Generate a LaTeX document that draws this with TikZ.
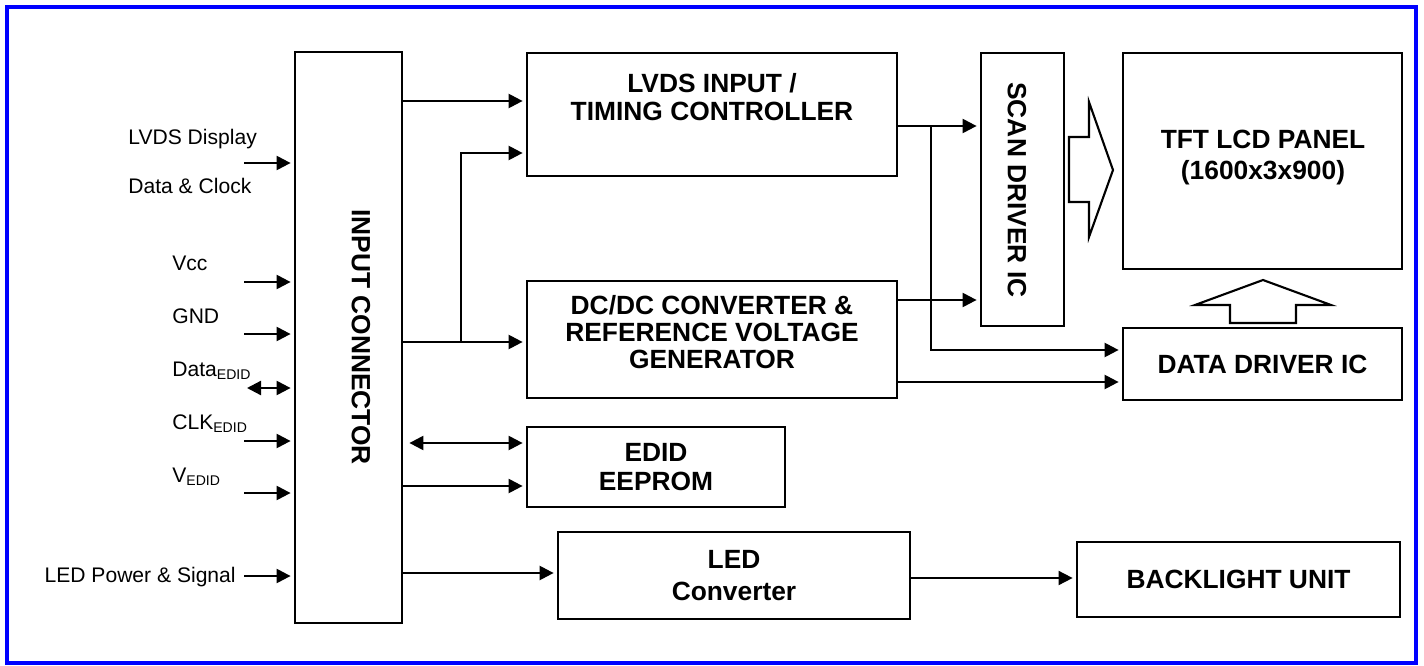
\documentclass[tikz,border=0pt]{standalone}
\usepackage{fontspec}
\setmainfont{Liberation Sans}
\usetikzlibrary{arrows.meta}
\definecolor{FrameBlue}{RGB}{0,0,255}

\begin{document}
\begin{tikzpicture}[x=0.02cm, y=-0.02cm,
    box/.style={rectangle, draw=black, line width=1.6pt, inner sep=0pt, align=center,
        font=\bfseries\fontsize{15}{17}\selectfont},
    boxtxt/.style={inner sep=0pt, align=center, font=\bfseries\fontsize{15}{17}\selectfont},
    lbl/.style={inner sep=0pt, anchor=base west, font=\fontsize{12}{14}\selectfont},
    arr/.style={-{Triangle[length=8pt, width=8pt]}, line width=1.3pt, shorten >=0.06cm},
    darr/.style={{Triangle[length=8pt, width=8pt]}-{Triangle[length=8pt, width=8pt]},
        line width=1.3pt, shorten >=0.06cm},
    hollow/.style={draw=black, line width=1.2pt, fill=white, line join=miter},
]
\useasboundingbox (0,0) rectangle (1424,666);
\draw[FrameBlue, line width=0.08cm] (7,7) rectangle (1416,663);

% blocks
\node[box, minimum width=2.14cm, minimum height=11.42cm] (conn) at (348.5,337.5) {};
\node[boxtxt, rotate=-90] (conn-txt) at (361,337) {INPUT CONNECTOR};
\node[box, minimum width=7.4cm, minimum height=2.46cm] (tcon) at (712,114.5) {};
\node[boxtxt, font=\bfseries\fontsize{15}{16.4}\selectfont] (tcon-txt) at (712,97) {LVDS INPUT /\\TIMING CONTROLLER};
\node[box, minimum width=7.4cm, minimum height=2.34cm] (dcdc) at (712,339.5) {};
\node[boxtxt, font=\bfseries\fontsize{15}{15.6}\selectfont] (dcdc-txt) at (712,332) {DC/DC CONVERTER \&\\REFERENCE VOLTAGE\\GENERATOR};
\node[box, minimum width=5.16cm, minimum height=1.6cm] (edid) at (656,467) {EDID\\EEPROM};
\node[box, minimum width=7.04cm, minimum height=1.74cm, font=\bfseries\fontsize{15}{18}\selectfont] (ledc) at (734,575.5) {LED\\Converter};
\node[box, minimum width=1.66cm, minimum height=5.46cm] (scan) at (1022.5,189.5) {};
\node[boxtxt, rotate=-90] (scan-txt) at (1017,190) {SCAN DRIVER IC};
\node[box, minimum width=5.58cm, minimum height=4.32cm] (tft) at (1262.5,161) {};
\node[boxtxt, font=\bfseries\fontsize{15}{17.6}\selectfont] (tft-txt) at (1263,157.5) {TFT LCD PANEL\\(1600x3x900)};
\node[box, minimum width=5.58cm, minimum height=1.44cm] (ddrv) at (1262.5,364) {DATA DRIVER IC};
\node[box, minimum width=6.46cm, minimum height=1.5cm] (blu) at (1238.5,579.5) {BACKLIGHT UNIT};

% input labels
\node[lbl] (lvdsdisp) at (128,144) {LVDS Display};
\node[lbl] (dataclk) at (128,193) {Data \& Clock};
\node[lbl] (vcc) at (172,270) {Vcc};
\node[lbl] (gnd) at (172,323) {GND};
\node[lbl] (ddc) at (172,376) {Data\textsubscript{EDID}};
\node[lbl] (clk) at (172,429) {CLK\textsubscript{EDID}};
\node[lbl] (vedid) at (172,482) {V\textsubscript{EDID}};
\node[lbl, anchor=base east] (ledpwr) at (236,582) {LED Power \& Signal};

\foreach \n/\y in {lvds/163, vcc/282, gnd/334, clk/441, vedid/493, led/576} {
    \coordinate (in-\n) at (244,\y);
    \draw[arr] (in-\n) -- (conn.west |- in-\n);
}
\coordinate (in-ddc) at (247,388);
\draw[darr] (in-ddc) -- (conn.west |- in-ddc);

% connector outputs
\draw[arr] (conn.east |- 0,101) -- (tcon.west |- 0,101);
\draw[arr] (conn.east |- 0,342) -- (dcdc.west |- 0,342);
\coordinate (j-in) at (461,342);
\draw[arr] (j-in) |- (tcon.west |- 0,153);
\draw[darr, shorten <=0.12cm] (conn.east |- 0,443) -- (edid.west |- 0,443);
\draw[arr] (conn.east |- 0,486) -- (edid.west |- 0,486);
\draw[arr] (conn.east |- 0,573) -- (ledc.west |- 0,573);

% to the drivers
\draw[arr] (tcon.east |- 0,126) -- (scan.west |- 0,126);
\coordinate (j-out) at (931,126);
\draw[arr] (j-out) |- (ddrv.west |- 0,350);
\draw[arr] (dcdc.east |- 0,300) -- (scan.west |- 0,300);
\draw[arr] (dcdc.east |- 0,382) -- (ddrv.west |- 0,382);
\draw[arr, line width=1pt] (ledc.east |- 0,578) -- (blu.west |- 0,578);

% wide arrows into the panel
\draw[hollow] (1069,137) -- (1089,137) -- (1089,102) -- (1113,170) -- (1089,237)
    -- (1089,202) -- (1069,202) -- cycle;
\draw[hollow] (1230,323) -- (1230,305) -- (1195,305) -- (1263,280) -- (1331,305)
    -- (1296,305) -- (1296,323) -- cycle;
\end{tikzpicture}
\end{document}
